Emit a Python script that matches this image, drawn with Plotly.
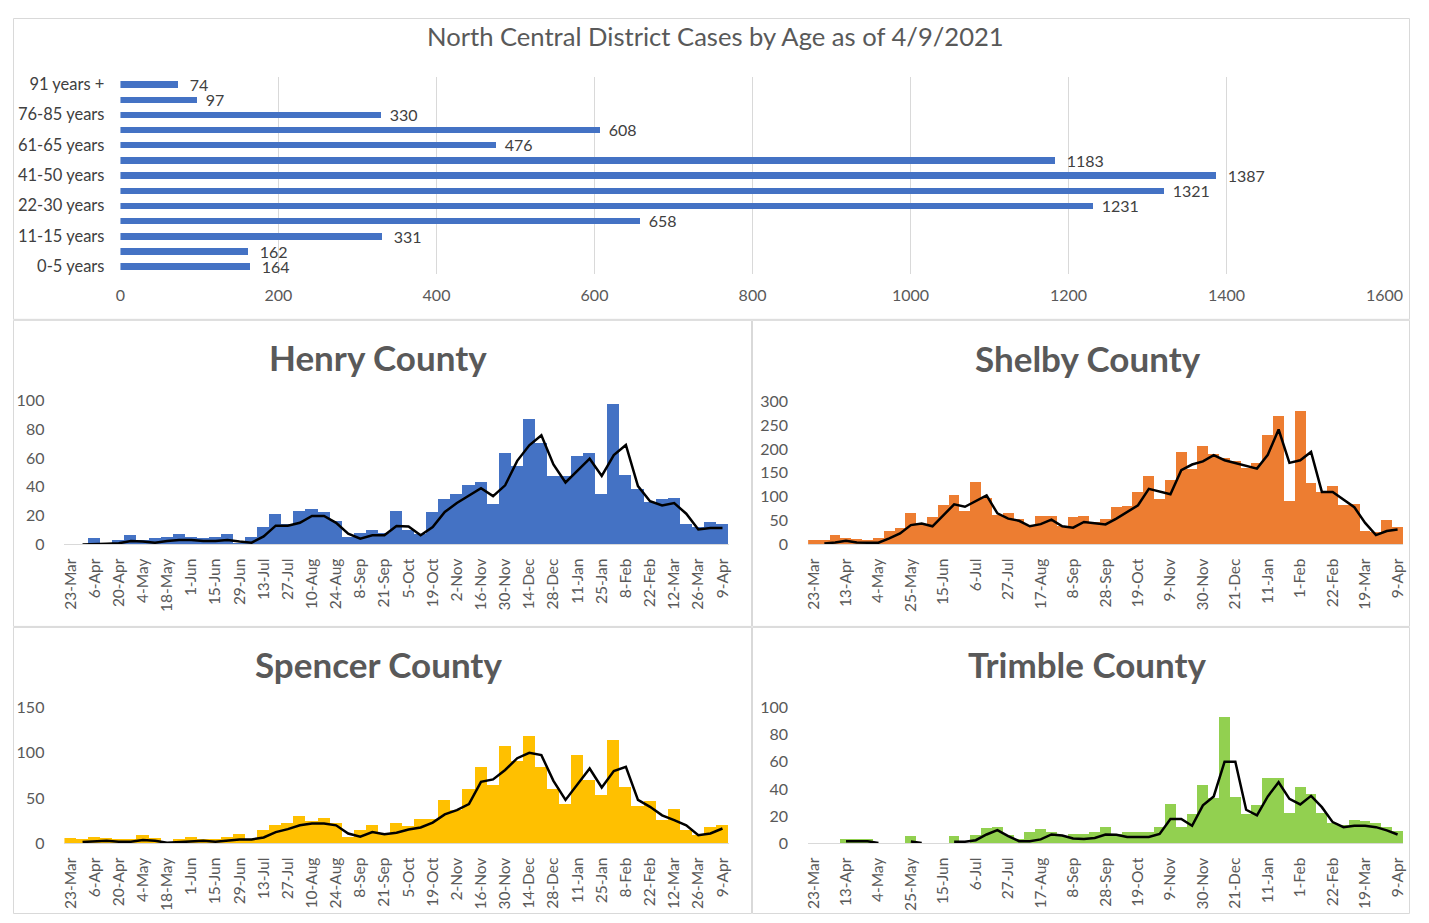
import plotly.graph_objects as go

# page body keeps its default 8px margin; figure fills the rest of the window
OFF = 8
W, H = 1429 - OFF, 923 - OFF
# measured mapping from page pixels to the photographed picture
SX, OX = 0.983, 4.7
SY, OY = 0.979, 9.9
FONT = "Lato"
GRAY = "#595959"
DARK = "#404040"
GRID = "#d9d9d9"

# ---------------- data ----------------
age_groups = ["0-5 years", "6-10 years", "11-15 years", "16-21 years", "22-30 years",
              "31-40 years", "41-50 years", "51-60 years", "61-65 years", "66-75 years",
              "76-85 years", "86-90 years", "91 years +"]
age_cases = [164, 162, 331, 658, 1231, 1321, 1387, 1183, 476, 608, 330, 97, 74]
age_tick_labels = age_groups[::2]
age_x_ticks = [0, 200, 400, 600, 800, 1000, 1200, 1400, 1600]

weeks = ["23-Mar", "30-Mar", "6-Apr", "13-Apr", "20-Apr", "27-Apr", "4-May", "11-May", "18-May", "25-May",
         "1-Jun", "8-Jun", "15-Jun", "22-Jun", "29-Jun", "6-Jul", "13-Jul", "20-Jul", "27-Jul", "3-Aug",
         "10-Aug", "17-Aug", "24-Aug", "31-Aug", "8-Sep", "14-Sep", "21-Sep", "28-Sep", "5-Oct", "12-Oct",
         "19-Oct", "26-Oct", "2-Nov", "9-Nov", "16-Nov", "23-Nov", "30-Nov", "7-Dec", "14-Dec", "21-Dec",
         "28-Dec", "4-Jan", "11-Jan", "18-Jan", "25-Jan", "1-Feb", "8-Feb", "15-Feb", "22-Feb", "1-Mar",
         "12-Mar", "19-Mar", "26-Mar", "2-Apr", "9-Apr"]

henry_cases = [0, 0, 4, 0, 3, 6, 3, 4, 5, 7,
               5, 4, 5, 7, 1, 5, 12, 21, 14, 23,
               24, 22, 16, 5, 8, 10, 8, 23, 10, 7,
               22, 31, 35, 41, 43, 28, 63, 54, 87, 70,
               47, 47, 61, 63, 35, 97, 48, 38, 29, 31,
               32, 14, 12, 15, 14]
henry_avg = [None, 0, 0.5, 0.5, 0.8, 2.3, 2, 1.2, 2.3, 3,
             3, 2.3, 2.3, 3, 2, 1.2, 5.5, 13, 13, 15,
             19.7, 19.7, 15, 7.5, 4, 6.3, 6.3, 12.7, 12.5, 6.3,
             12, 22.5, 28.7, 34, 39, 33.5, 41, 58, 68.8, 75.7,
             55.5, 43, 51.4, 59.5, 47.5, 62, 69, 40.5, 30, 27,
             28.7, 21.3, 10.4, 11.3, 11.3]

shelby_cases = [9, 9, 19, 12, 11, 8, 12, 28, 34, 65,
                43, 56, 81, 103, 69, 131, 96, 60, 65, 53,
                39, 59, 59, 37, 56, 59, 46, 53, 78, 80,
                109, 143, 95, 135, 194, 157, 206, 188, 180, 174,
                159, 171, 228, 268, 91, 278, 128, 110, 121, 82,
                84, 28, 25, 50, 35]
shelby_avg = [None, 2, 4, 7.7, 4, 3.5, 3.5, 12.5, 23, 40.5,
              44, 38, 61, 84, 79, 91, 103, 65, 54, 49.5,
              38, 42.5, 52, 38, 35, 47, 44, 42, 54, 68,
              82, 116.5, 110, 105, 155.6, 167.5, 174, 187, 176.5, 171,
              164, 159, 188, 241, 171, 176.5, 194, 110, 110, 94,
              78, 45, 19.5, 28, 31]

spencer_cases = [6, 5, 7, 6, 5, 5, 9, 6, 0, 5,
                 7, 5, 5, 7, 10, 5, 14, 20, 22, 30,
                 24, 28, 22, 7, 14, 20, 11, 22, 19, 27,
                 27, 47, 36, 60, 84, 64, 107, 91, 118, 84,
                 60, 43, 97, 70, 53, 114, 62, 41, 46, 25,
                 37, 14, 9, 18, 20]
spencer_avg = [None, 1.5, 2, 3, 2, 2, 3.7, 3, 0.7, 1.5,
               3, 3, 2, 3, 4.4, 4.4, 6.6, 12.5, 15.8, 20,
               22, 22, 20, 11, 7.4, 12.5, 10.3, 11.8, 15.4, 17.6,
               23, 32, 36.8, 43.4, 68, 70.6, 81, 94, 100, 97.4,
               69, 48, 66, 82.7, 61.8, 79.8, 84.6, 48, 40.4, 31,
               25.7, 20, 9.2, 11, 16.5]

trimble_cases = [None, None, None, 3, 3, 3, None, None, None, 5,
                 None, None, None, 5, None, 6, 11, 12, 6, 3,
                 8, 10, 8, 5, 7, 7, 8, 12, 7, 8,
                 8, 8, 12, 29, 12, 21, 43, 33, 93, 34,
                 21, 28, 48, 48, 22, 41, 36, 22, 15, 13,
                 17, 16, 15, 12, 9]
trimble_avg = [None, None, None, 1.7, 1.7, 1.7, 0.3, None, None, 1.5,
               0.3, None, None, 1.2, 1.2, 2.4, 6.6, 9.8, 5.4, 1.7,
               1.7, 3, 6.6, 5.9, 3.7, 3.2, 4, 6.6, 6.4, 4.7,
               4.7, 4.7, 7, 18, 18, 13, 28, 34.6, 60, 60,
               24.8, 20.6, 34.6, 45, 32.8, 28.7, 35, 26.7, 15.7, 12,
               13, 13, 12, 9.6, 6.6]

counties = [
    # name, cases, average, colour, y max, y step, label every n weeks
    ("Henry County", henry_cases, henry_avg, "#4472C4", 100, 20, 2),
    ("Shelby County", shelby_cases, shelby_avg, "#ED7D31", 300, 50, 3),
    ("Spencer County", spencer_cases, spencer_avg, "#FFC000", 150, 50, 2),
    ("Trimble County", trimble_cases, trimble_avg, "#92D050", 100, 20, 3),
]

# ---------------- layout helpers (picture pixel -> paper) ----------------
def clamp(v):
    return max(0.0, min(1.0, v))

def px(x):
    return clamp(((x - OX) / SX - OFF) / W)

def py(y):
    return clamp(1 - ((y - OY) / SY - OFF) / H)

def dx(a, b):
    return [px(a), px(b)]

def dy(top, bottom):
    return [py(bottom), py(top)]

fig = go.Figure()

# top chart: cases by age
fig.add_trace(go.Bar(
    x=age_cases, y=age_groups, orientation="h", width=0.42,
    marker=dict(color="#4472C4", line=dict(width=0)),
    text=["  " + str(v) for v in age_cases], textposition="outside",
    textfont=dict(family=FONT, size=16, color=DARK),
    constraintext="none", cliponaxis=False, hoverinfo="x+y",
    xaxis="x", yaxis="y", showlegend=False,
))

# county panels: plot-area boxes in picture pixels (left, right, top, bottom)
panels = [
    (64.0, 728.0, 400, 544),
    (807.6, 1402.4, 401, 544),
    (64.0, 728.0, 707, 843),
    (807.6, 1402.4, 707, 843),
]
title_pos = [(378, 357), (1087, 358), (378, 664), (1087, 664)]

layout_axes = {}
annotations = []
for k, ((name, cases, avg, color, ymax, ystep, every), (l, r, t, b), (tx, ty)) in enumerate(
        zip(counties, panels, title_pos)):
    n = k + 2
    xa, ya = f"x{n}", f"y{n}"
    fig.add_trace(go.Bar(x=weeks, y=cases, width=1.0, marker=dict(color=color, line=dict(width=0)),
                         xaxis=xa, yaxis=ya, showlegend=False, name=name))
    fig.add_trace(go.Scatter(x=weeks, y=avg, mode="lines", line=dict(color="black", width=2.5),
                             connectgaps=False, xaxis=xa, yaxis=ya, showlegend=False,
                             name=name + " average"))
    layout_axes[f"xaxis{n}"] = dict(
        domain=dx(l, r), anchor=ya, type="category", categoryorder="array", categoryarray=weeks,
        range=[-0.5, len(weeks) - 0.5], tickmode="array", tickvals=weeks[::every], ticktext=weeks[::every],
        tickangle=-90, tickfont=dict(family=FONT, size=15.5, color=GRAY), ticklabelstandoff=7,
        showgrid=False, showline=True, linecolor=GRID, linewidth=1, ticks="", zeroline=False,
        fixedrange=True,
    )
    layout_axes[f"yaxis{n}"] = dict(
        domain=dy(t, b), anchor=xa, range=[0, ymax], tickmode="linear", tick0=0, dtick=ystep,
        tickfont=dict(family=FONT, size=16, color=GRAY), ticklabelstandoff=19, showgrid=False,
        zeroline=False, showline=False, ticks="", fixedrange=True,
    )
    annotations.append(dict(text=f"<b>{name}</b>", x=px(tx), y=py(ty), xref="paper", yref="paper",
                            showarrow=False, xanchor="center", yanchor="middle",
                            font=dict(family=FONT, size=35, color=GRAY)))

annotations.append(dict(text="North Central District Cases by Age as of 4/9/2021", x=px(715), y=py(36),
                        xref="paper", yref="paper", showarrow=False, xanchor="center", yanchor="middle",
                        font=dict(family=FONT, size=25.6, color=GRAY)))

# panel borders
shapes = []
for (x0, y0, x1, y1) in [(7, 4, 1425, 319), (7, 320, 751, 626), (752, 320, 1425, 626),
                         (7, 627, 751, 920), (752, 627, 1425, 920)]:
    shapes.append(dict(type="rect", xref="paper", yref="paper",
                       x0=max(px(x0), 0.5 / W), x1=min(px(x1), 1 - 0.5 / W),
                       y0=max(py(y1), 0.5 / H), y1=min(py(y0), 1 - 0.5 / H),
                       line=dict(color=GRID, width=1), layer="below"))

fig.update_layout(
    width=W, height=H, margin=dict(l=0, r=0, t=0, b=0),
    paper_bgcolor="white", plot_bgcolor="white",
    font=dict(family=FONT, color=GRAY),
    xaxis=dict(domain=dx(120, 1384), anchor="y", range=[0, 1600], tickmode="array", tickvals=age_x_ticks,
               showgrid=True, gridcolor=GRID, gridwidth=1, zeroline=False, showline=False, ticks="",
               ticklabelstandoff=10, tickfont=dict(family=FONT, size=16, color=GRAY), fixedrange=True),
    yaxis=dict(domain=dy(76.4, 273.6), anchor="x", type="category", categoryorder="array",
               categoryarray=age_groups, range=[-0.5, len(age_groups) - 0.5], tickmode="array",
               tickvals=age_tick_labels, ticktext=age_tick_labels, showgrid=False, zeroline=False,
               ticks="", ticklabelstandoff=15, tickfont=dict(family=FONT, size=16.5, color=DARK),
               fixedrange=True),
    annotations=annotations, shapes=shapes, showlegend=False, bargap=0,
    **layout_axes,
)

fig.write_html("out.html", config={"displayModeBar": False})
